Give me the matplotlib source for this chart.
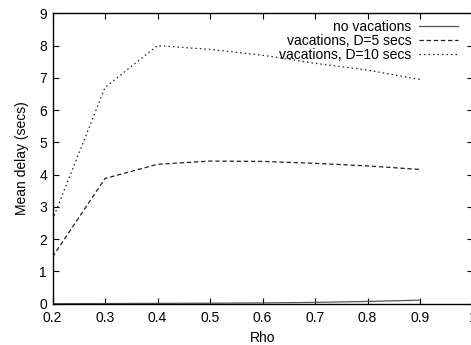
import matplotlib
matplotlib.use("Agg")
import matplotlib.pyplot as plt

rho = [0.2, 0.3, 0.4, 0.5, 0.6, 0.7, 0.8, 0.9]
no_vac = [0.0, 0.005, 0.01, 0.015, 0.025, 0.04, 0.07, 0.11]
vac_d5 = [1.45, 3.88, 4.32, 4.42, 4.41, 4.35, 4.27, 4.16]
vac_d10 = [2.6, 6.7, 8.0, 7.88, 7.70, 7.45, 7.24, 6.95]
labels = ["no vacations", "vacations, D=5 secs", "vacations, D=10 secs"]
xticks = [0.2, 0.3, 0.4, 0.5, 0.6, 0.7, 0.8, 0.9, 1.0]
yticks = list(range(0, 10))

plt.rcParams['font.family'] = ['Liberation Sans', 'DejaVu Sans']
fig = plt.figure(figsize=(4.71, 3.45), dpi=100)
W, H = 471, 345
left, right, bottom, top = 52.5, 472.5, 303.7, 13.3
ax = fig.add_axes([left / W, (H - bottom) / H, (right - left) / W, (bottom - top) / H])

fs = 10
lw = 0.9
ax.plot(rho, no_vac, color='#555555', lw=lw, ls='-', label=labels[0])
ax.plot(rho, vac_d5, color='#222222', lw=lw, ls=(0, (3.5, 2.2)), label=labels[1])
ax.plot(rho, vac_d10, color='#222222', lw=lw, ls=(0, (1.2, 2.4)), label=labels[2])

ax.set_xlim(0.2, 1.0)
ax.set_ylim(0, 9)
ax.set_xticks(xticks)
ax.set_xticklabels([f"{v:g}" for v in xticks])
ax.set_yticks(yticks)
ax.tick_params(direction='in', length=4.3, width=0.8, top=True, right=True,
               labelsize=fs, colors='black')
ax.tick_params(axis='x', pad=5.5)
ax.tick_params(axis='y', pad=4)
for s in ax.spines.values():
    s.set_linewidth(1.0)
ax.set_xlabel("Rho", fontsize=fs, labelpad=4)
ax.set_ylabel("Mean delay (secs)", fontsize=fs, labelpad=7)

leg = ax.legend(loc='upper right', frameon=False, markerfirst=False, fontsize=fs,
                handlelength=2.8, handletextpad=0.55, labelspacing=0.0,
                borderaxespad=0.0, borderpad=0.0, bbox_to_anchor=(0.965, 0.978))
for t in leg.get_texts():
    t.set_ha('right')

fig.savefig("out.png", dpi=100)
